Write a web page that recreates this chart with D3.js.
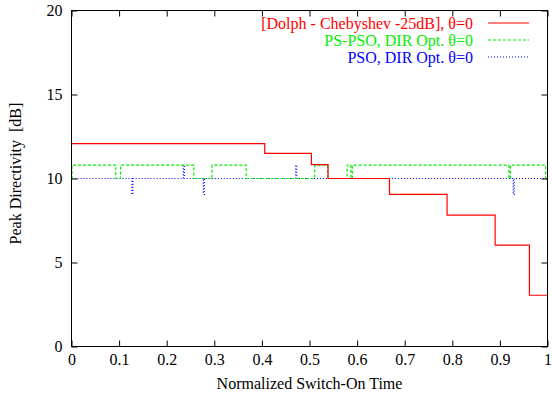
<!DOCTYPE html>
<html><head><meta charset="utf-8">
<script src="https://cdn.jsdelivr.net/npm/d3@7"></script>
<style>body{margin:0;background:#fff}svg{display:block}</style>
</head><body>
<svg id="c" width="552" height="403" style="font-family:'Liberation Serif','Times New Roman',serif"></svg>
<script>
// Step series: [switch-on time, peak directivity dB] (step-after)
const dolphX = [0, 0.406, 0.504, 0.539, 0.668, 0.789, 0.890, 0.962, 1.0];
const dolphY = [12.08, 11.49, 10.83, 10.0, 9.05, 7.82, 6.03, 3.05, 3.05];
const psPsoX = [0, 0.001, 0.093, 0.103, 0.257, 0.295, 0.367, 0.511, 0.538, 0.579, 0.587, 0.590, 0.919, 0.922, 0.996, 1.0];
const psPsoY = [10.0, 10.8, 10.0, 10.8, 10.0, 10.8, 10.0, 10.8, 10.0, 10.8, 10.0, 10.8, 10.0, 10.8, 10.0, 10.0];
const psoX = [0, 0.127, 0.129, 0.235, 0.237, 0.277, 0.279, 0.471, 0.473, 0.928, 0.930, 1.0];
const psoY = [10.0, 9.05, 10.0, 10.8, 10.0, 9.05, 10.0, 10.8, 10.0, 9.05, 10.0, 10.0];
const xTicks = [0, 0.1, 0.2, 0.3, 0.4, 0.5, 0.6, 0.7, 0.8, 0.9, 1];
const yTicks = [0, 5, 10, 15, 20];
const seriesNames = ["[Dolph - Chebyshev -25dB], θ=0", "PS-PSO, DIR Opt. θ=0", "PSO, DIR Opt. θ=0"];
const seriesColors = ["#ff0000", "#00ee00", "#0000ff"];
const seriesDash = [null, "3,2", "1,2"];

const FF = "'Liberation Serif','Times New Roman',serif";
const FS = 16;
const svg = d3.select("#c");
const L = 71.5, R = 547.5, T = 10.5, B = 346.5;
const x = d3.scaleLinear().domain([0, 1]).range([L, R]);
const y = d3.scaleLinear().domain([0, 20]).range([B, T]);

const series = [
  dolphX.map((v, i) => [v, dolphY[i]]),
  psPsoX.map((v, i) => [v, psPsoY[i]]),
  psoX.map((v, i) => [v, psoY[i]])
];
const line = d3.line().x(d => x(d[0])).y(d => y(d[1])).curve(d3.curveStepAfter);

const order = [2, 1, 0];
order.forEach(i => {
  svg.append("path").datum(series[i]).attr("d", line)
    .attr("fill", "none").attr("stroke", seriesColors[i]).attr("stroke-width", 1.2)
    .attr("stroke-dasharray", seriesDash[i]);
});

svg.append("rect").attr("x", L).attr("y", T).attr("width", R - L).attr("height", B - T)
  .attr("fill", "none").attr("stroke", "#000").attr("stroke-width", 1);

const tk = 6;
const gx = svg.append("g").attr("transform", `translate(0,${B})`)
  .call(d3.axisBottom(x).tickValues(xTicks).tickFormat(d3.format("")).tickSize(-tk).tickPadding(10));
const gxt = svg.append("g").attr("transform", `translate(0,${T})`)
  .call(d3.axisTop(x).tickValues(xTicks).tickFormat("").tickSize(-tk));
const gy = svg.append("g").attr("transform", `translate(${L},0)`)
  .call(d3.axisLeft(y).tickValues(yTicks).tickSize(-tk).tickPadding(9));
const gyr = svg.append("g").attr("transform", `translate(${R},0)`)
  .call(d3.axisRight(y).tickValues(yTicks).tickFormat("").tickSize(-tk));
[gx, gxt, gy, gyr].forEach(g => {
  g.attr("font-family", null).attr("font-size", null);
  g.select(".domain").remove();
  g.selectAll("line").attr("stroke", "#000");
  g.selectAll("text").style("font-family", FF).style("font-size", FS + "px").attr("fill", "#000");
});
gx.selectAll("text").attr("dy", "0.55em");

svg.append("text").attr("x", (L + R) / 2).attr("y", 389).attr("text-anchor", "middle")
  .style("font-family", FF).style("font-size", FS + "px").text("Normalized Switch-On Time");
svg.append("text").attr("transform", `translate(21,${(T + B) / 2 - 5}) rotate(-90)`)
  .attr("text-anchor", "middle").style("font-family", FF).style("font-size", FS + "px")
  .style("white-space", "pre").text("Peak Directivity  [dB]");

const lg = svg.append("g");
seriesNames.forEach((n, i) => {
  const yy = 23 + i * 17;
  lg.append("text").attr("x", 473).attr("y", yy).attr("dy", "0.35em").attr("text-anchor", "end")
    .style("font-family", FF).style("font-size", FS + "px").attr("fill", seriesColors[i]).text(n);
  lg.append("line").attr("x1", 488).attr("x2", 529).attr("y1", yy).attr("y2", yy)
    .attr("stroke", seriesColors[i]).attr("stroke-width", 1.2).attr("stroke-dasharray", seriesDash[i]);
});
</script>
</body></html>
